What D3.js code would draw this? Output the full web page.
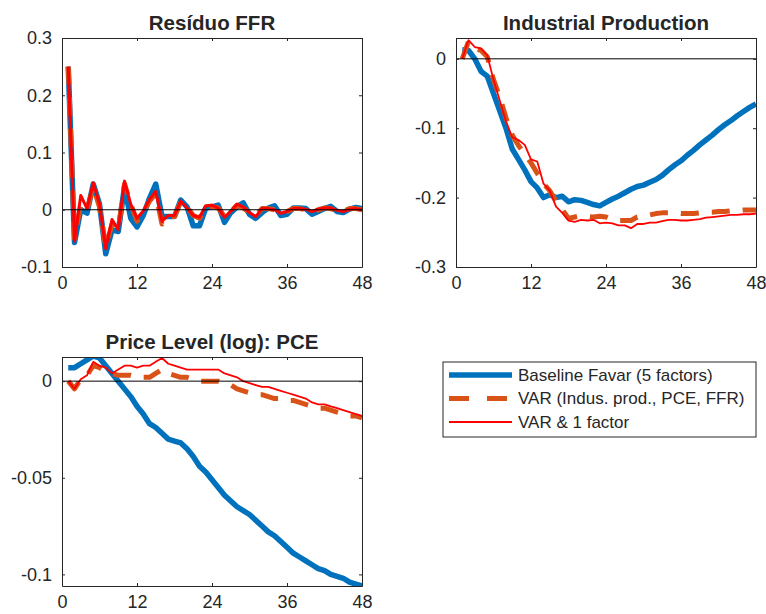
<!DOCTYPE html>
<html>
<head>
<meta charset="utf-8">
<script src="https://cdn.jsdelivr.net/npm/d3@7"></script>
<style>
    body { margin: 0; background: #fff; }
    svg text { font-family: "Liberation Sans", Arial, sans-serif; fill: #262626; }
</style>
</head>
<body>
<div id="chart"></div>
<script>

// horizon (months)
const months = d3.range(1, 49);

// series names
const seriesNames = ["Baseline Favar (5 factors)", "VAR (Indus. prod., PCE, FFR)", "VAR & 1 factor"];

// Resíduo FFR
const ffrFavar = [0.25, -0.057, 0.0, -0.006, 0.045, 0.01, -0.077, -0.035, -0.038, 0.04, -0.015, -0.03,
    -0.01, 0.02, 0.045, -0.012, -0.012, -0.012, 0.017, 0.005, -0.028, -0.028, 0.003, 0.005,
    0.008, -0.022, -0.005, 0.005, 0.012, -0.008, -0.015, -0.005, 0.003, 0.007, -0.01, -0.008,
    0.003, 0.003, 0.002, -0.008, -0.003, 0.002, 0.006, -0.003, -0.005, 0.001, 0.004, 0.002];
const ffrVar = [0.25, -0.05, 0.01, 0.0, 0.04, 0.005, -0.065, -0.025, -0.035, 0.045, 0.01, -0.02,
    -0.005, 0.015, 0.028, -0.025, -0.012, -0.012, 0.015, 0.005, -0.01, -0.015, 0.005, 0.006,
    0.003, -0.012, -0.003, 0.008, 0.003, -0.005, -0.01, 0.002, 0.002, 0.0, -0.006, -0.003,
    0.002, 0.002, 0.0, -0.004, 0.0, 0.003, 0.002, -0.002, -0.003, 0.002, 0.002, 0.0];
const ffrVar1f = [0.25, -0.055, 0.025, 0.002, 0.047, 0.01, -0.068, -0.017, -0.035, 0.05, 0.01, -0.015,
    -0.002, 0.018, 0.032, -0.02, -0.01, -0.01, 0.015, 0.003, -0.01, -0.013, 0.007, 0.008,
    0.003, -0.013, -0.003, 0.01, 0.005, -0.005, -0.012, 0.002, 0.002, 0.0, -0.006, -0.003,
    0.002, 0.002, 0.001, -0.003, 0.001, 0.003, 0.003, -0.001, -0.003, 0.001, 0.002, 0.0];

// Industrial Production
const ipFavar = [0.013, 0.012, 0.0, -0.018, -0.025, -0.05, -0.075, -0.1, -0.13, -0.145, -0.16, -0.177,
    -0.186, -0.2, -0.196, -0.2, -0.198, -0.206, -0.203, -0.204, -0.207, -0.21, -0.212, -0.207,
    -0.202, -0.198, -0.193, -0.188, -0.184, -0.182, -0.178, -0.174, -0.168, -0.16, -0.153, -0.147,
    -0.139, -0.132, -0.124, -0.117, -0.11, -0.102, -0.095, -0.089, -0.082, -0.076, -0.07, -0.065];
const ipVar = [0.0, 0.025, 0.015, 0.012, 0.003, -0.03, -0.055, -0.085, -0.11, -0.125, -0.137, -0.15,
    -0.165, -0.18, -0.19, -0.205, -0.217, -0.23, -0.228, -0.226, -0.227, -0.228, -0.227, -0.228,
    -0.232, -0.233, -0.233, -0.233, -0.228, -0.227, -0.225, -0.223, -0.222, -0.222, -0.222, -0.223,
    -0.223, -0.223, -0.222, -0.221, -0.221, -0.22, -0.22, -0.219, -0.219, -0.218, -0.218, -0.218];
const ipVar1f = [0.0, 0.027, 0.017, 0.015, 0.005, -0.03, -0.06, -0.09, -0.113, -0.117, -0.124, -0.145,
    -0.148, -0.18, -0.19, -0.213, -0.222, -0.233, -0.235, -0.232, -0.233, -0.232, -0.237, -0.236,
    -0.237, -0.24, -0.24, -0.244, -0.238, -0.238, -0.236, -0.236, -0.234, -0.232, -0.232, -0.233,
    -0.233, -0.232, -0.231, -0.229, -0.228, -0.227, -0.226, -0.225, -0.225, -0.224, -0.224, -0.223];

// Price Level (log): PCE
const pceFavar = [0.007, 0.007, 0.009, 0.011, 0.013, 0.012, 0.008, 0.004, 0.0, -0.004, -0.008, -0.013,
    -0.017, -0.022, -0.024, -0.027, -0.03, -0.031, -0.032, -0.035, -0.039, -0.044, -0.047, -0.051,
    -0.055, -0.059, -0.062, -0.065, -0.067, -0.069, -0.072, -0.075, -0.078, -0.08, -0.083, -0.086,
    -0.089, -0.091, -0.093, -0.095, -0.097, -0.098, -0.1, -0.101, -0.102, -0.104, -0.105, -0.106];
const pceVar = [0.0, -0.004, 0.001, 0.003, 0.008, 0.007, 0.005, 0.004, 0.003, 0.003, 0.003, 0.002,
    0.002, 0.002, 0.004, 0.006, 0.004, 0.003, 0.002, 0.002, 0.001, 0.0, 0.0, 0.0,
    0.0, -0.001, -0.002, -0.004, -0.005, -0.006, -0.007, -0.007, -0.008, -0.009, -0.009, -0.01,
    -0.01, -0.011, -0.012, -0.013, -0.014, -0.014, -0.015, -0.016, -0.017, -0.018, -0.018, -0.019];
const pceVar1f = [0.0, -0.004, 0.001, 0.003, 0.01, 0.008, 0.007, 0.004, 0.006, 0.008, 0.008, 0.007,
    0.008, 0.008, 0.01, 0.012, 0.009, 0.008, 0.007, 0.006, 0.006, 0.006, 0.006, 0.006,
    0.006, 0.004, 0.003, 0.002, 0.0, -0.001, -0.002, -0.003, -0.003, -0.004, -0.005, -0.006,
    -0.007, -0.008, -0.009, -0.011, -0.012, -0.012, -0.013, -0.014, -0.015, -0.016, -0.017, -0.018];

// tick labels
const xTicks = [0, 12, 24, 36, 48];
const ffrTicks = [-0.1, 0, 0.1, 0.2, 0.3];
const ipTicks = [-0.3, -0.2, -0.1, 0];
const pceTicks = [-0.1, -0.05, 0];

const width = 766, height = 614;

const styles = [
    {color: "#0072BD", width: 5.5, dash: null},
    {color: "#D95319", width: 5, dash: "18,13"},
    {color: "#FF0000", width: 1.8, dash: null}
];

const panels = [
    {title: "Resíduo FFR", x: 62, y: 38, w: 300, h: 229, domain: [-0.1, 0.3], ticks: ffrTicks,
        series: [ffrFavar, ffrVar, ffrVar1f], redWidth: 3},
    {title: "Industrial Production", x: 456, y: 38, w: 300, h: 229, domain: [-0.3, 0.03], ticks: ipTicks,
        series: [ipFavar, ipVar, ipVar1f], redWidth: 1.8},
    {title: "Price Level (log): PCE", x: 62, y: 357, w: 300, h: 229, domain: [-0.106, 0.0125], ticks: pceTicks,
        series: [pceFavar, pceVar, pceVar1f], redWidth: 1.8}
];

const svg = d3.select("#chart").append("svg")
    .attr("width", width)
    .attr("height", height);

const defs = svg.append("defs");

panels.forEach((p, i) => {
    const g = svg.append("g").attr("transform", `translate(${p.x},${p.y})`);

    const xScale = d3.scaleLinear().domain([0, 48]).range([0, p.w]);
    const yScale = d3.scaleLinear().domain(p.domain).range([p.h, 0]);

    defs.append("clipPath").attr("id", `clip${i}`)
        .append("rect").attr("width", p.w).attr("height", p.h);

    const fmt = d => d === 0 ? "0" : String(d);

    // axes, MATLAB style: ticks inward on all four sides
    const tickLen = 3;
    const xAxis = d3.axisBottom(xScale).tickValues(xTicks).tickSize(-tickLen).tickPadding(9).tickSizeOuter(0);
    const xAxisTop = d3.axisTop(xScale).tickValues(xTicks).tickSize(-tickLen).tickFormat("").tickSizeOuter(0);
    const yAxis = d3.axisLeft(yScale).tickValues(p.ticks).tickSize(-tickLen).tickPadding(10).tickFormat(fmt).tickSizeOuter(0);
    const yAxisRight = d3.axisRight(yScale).tickValues(p.ticks).tickSize(-tickLen).tickFormat("").tickSizeOuter(0);

    // lines
    const line = d3.line()
        .x((d, j) => xScale(months[j]))
        .y(d => yScale(d));

    const plot = g.append("g").attr("clip-path", `url(#clip${i})`);

    p.series.forEach((s, k) => {
        const st = styles[k];
        plot.append("path")
            .datum(s)
            .attr("d", line)
            .attr("fill", "none")
            .attr("stroke", st.color)
            .attr("stroke-width", k === 2 ? p.redWidth : st.width)
            .attr("stroke-dasharray", st.dash)
            .attr("stroke-linejoin", "round");
    });

    // zero line
    plot.append("line")
        .attr("x1", 0).attr("x2", p.w)
        .attr("y1", yScale(0)).attr("y2", yScale(0))
        .attr("stroke", "#000")
        .attr("stroke-width", 1);

    const axes = [
        g.append("g").attr("transform", `translate(0,${p.h})`).call(xAxis),
        g.append("g").call(xAxisTop),
        g.append("g").call(yAxis),
        g.append("g").attr("transform", `translate(${p.w},0)`).call(yAxisRight)
    ];
    axes.forEach(a => {
        a.select(".domain").attr("stroke", "#262626");
        a.selectAll(".tick line").attr("stroke", "#262626");
        a.selectAll("text").style("font-size", "18px").attr("fill", "#262626");
    });

    // title
    g.append("text")
        .attr("x", p.w / 2)
        .attr("y", -8)
        .attr("text-anchor", "middle")
        .style("font-size", "20.5px")
        .style("font-weight", "bold")
        .attr("fill", "#000")
        .text(p.title);
});

// legend
const legend = svg.append("g").attr("transform", "translate(443,362)");
legend.append("rect")
    .attr("width", 313).attr("height", 75)
    .attr("fill", "#fff")
    .attr("stroke", "#262626")
    .attr("stroke-width", 1);

seriesNames.forEach((name, k) => {
    const yy = 13 + k * 23.5;
    const st = styles[k];
    legend.append("line")
        .attr("x1", 6).attr("x2", 69)
        .attr("y1", yy).attr("y2", yy)
        .attr("stroke", st.color)
        .attr("stroke-width", k === 2 ? 1.8 : st.width)
        .attr("stroke-dasharray", k === 1 ? "20,18" : null);
    legend.append("text")
        .attr("x", 75)
        .attr("y", yy)
        .attr("dy", "0.35em")
        .style("font-size", "17px")
        .attr("fill", "#000")
        .text(name);
});

</script>
</body>
</html>
